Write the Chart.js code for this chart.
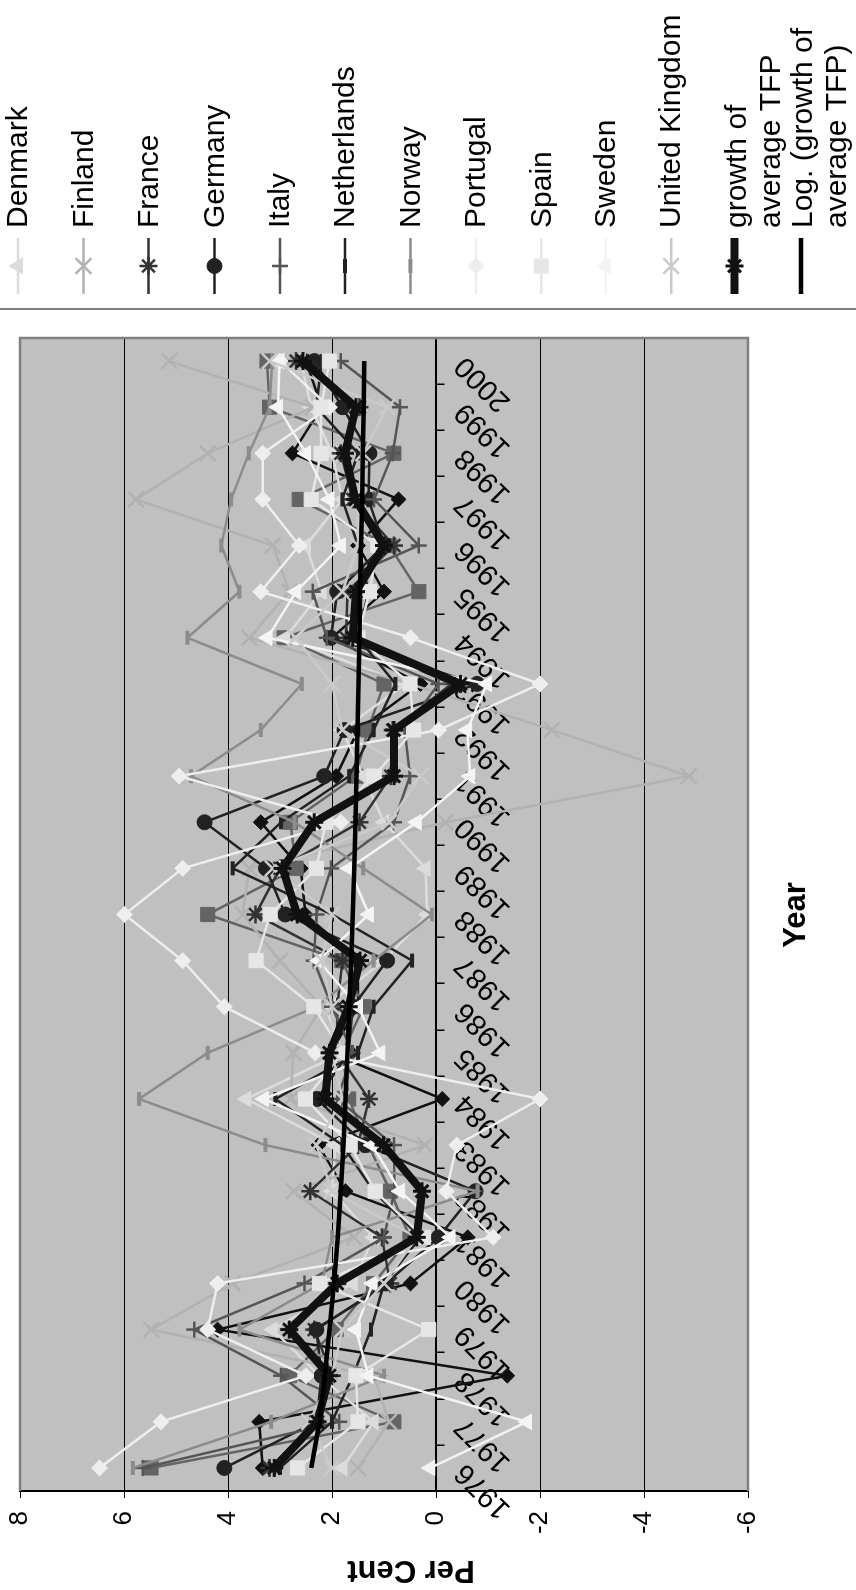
<!DOCTYPE html>
<html><head><meta charset="utf-8">
<script src="https://cdn.jsdelivr.net/npm/chart.js@4.4.1/dist/chart.umd.min.js"></script>
<style>
html,body{margin:0;padding:0;background:#fff;overflow:hidden;width:856px;height:1590px}
#wrap{position:absolute;left:0;top:1590px;width:1590px;height:856px;transform-origin:0 0;transform:rotate(-90deg)}
canvas{display:block}
</style></head><body>
<div id="wrap"><canvas id="c" width="1590" height="856"></canvas></div>
<script>
const years = ['1976','1977','1978','1979','1980','1981','1982','1983','1984','1985','1986','1987','1988','1989','1990','1991','1992','1993','1994','1995','1996','1997','1998','1999','2000'];
const valueTicks = [8,6,4,2,0,-2,-4,-6];

// two series whose legend entries are cut off in the picture
const series1 = [3.33,3.40,-1.37,4.20,0.49,-0.61,1.74,2.26,-0.12,2.03,1.50,1.50,2.51,2.60,3.37,1.92,1.50,0.30,2.00,1.00,1.50,0.72,2.76,2.20,2.50];
const series2 = [5.48,0.81,2.82,1.92,1.20,0.50,0.88,1.30,1.68,1.80,1.39,1.81,4.39,2.69,2.80,1.54,1.31,1.00,2.92,0.33,0.90,2.63,0.81,3.20,3.25];
const denmark = [1.80,1.20,2.24,3.14,1.60,1.20,2.00,1.94,3.65,1.80,2.13,1.00,0.17,0.20,1.00,1.40,1.80,0.59,2.90,2.20,2.50,1.80,2.00,2.40,2.60];
const finland = [1.50,0.90,1.20,5.48,3.91,1.58,2.74,0.21,2.80,2.74,2.20,3.00,3.72,3.59,-0.18,-4.86,-2.23,0.50,3.59,2.82,3.14,5.77,4.39,2.37,5.13];
const france = [3.20,2.31,2.00,2.34,0.88,1.04,2.42,1.50,1.29,1.90,1.90,1.80,3.47,3.00,1.47,0.87,0.83,-0.30,1.73,1.70,0.81,1.60,1.83,1.47,2.69];
const germany = [4.07,2.30,2.20,2.30,0.96,-0.05,-0.76,1.36,2.29,1.68,1.60,0.94,2.90,3.27,4.45,2.15,1.76,-0.79,2.02,1.90,1.00,1.30,1.28,1.80,2.34];
const italy = [5.64,1.86,2.98,4.65,2.53,1.00,0.80,0.81,1.90,1.60,2.00,2.35,2.30,2.02,0.81,0.50,0.60,-0.05,2.10,2.37,0.33,1.19,0.83,0.69,1.83];
const netherlands = [3.00,2.00,1.60,1.25,1.00,0.30,1.20,1.80,3.09,1.50,1.20,0.46,2.00,3.91,2.98,1.67,1.20,0.78,1.50,1.30,1.50,1.80,1.50,2.30,2.20];
const norway = [5.83,3.17,1.00,3.78,2.20,2.00,-0.80,3.28,5.71,4.39,2.30,1.20,0.08,1.40,2.72,4.71,3.37,2.58,4.78,3.78,4.13,3.94,3.60,3.20,3.15];
const portugal = [6.47,5.29,2.50,4.39,4.20,-1.10,-0.20,-0.40,-2.00,2.32,4.07,4.87,5.99,4.87,1.83,4.94,-0.05,-2.00,0.49,3.37,2.63,3.33,3.33,2.05,3.00];
const spain = [2.66,1.50,1.54,0.14,2.24,0.24,1.17,1.65,2.51,1.80,2.35,3.46,3.19,2.30,2.12,1.19,0.43,0.50,1.50,1.28,1.12,2.40,2.21,2.21,2.05];
const sweden = [0.11,-1.75,1.30,1.54,1.22,-0.28,0.69,1.23,3.31,1.07,1.50,2.26,1.29,1.67,0.37,-0.66,-0.60,-0.98,3.24,2.69,1.83,2.05,2.50,3.04,3.01];
const unitedKingdom = [2.00,2.44,2.00,1.80,1.00,0.37,2.00,2.30,1.80,2.00,2.00,2.20,2.00,3.14,0.90,0.30,1.80,2.00,2.70,1.80,1.50,1.50,1.40,0.94,3.20];
const avgGrowth = [3.11,2.28,2.05,2.82,1.90,0.37,0.27,1.01,2.13,2.05,1.68,1.46,2.67,2.95,2.34,0.81,0.81,-0.47,1.60,1.54,1.00,1.55,1.75,1.54,2.56];
const logTrend = [2.40,2.24,2.14,2.05,1.96,1.89,1.83,1.78,1.74,1.70,1.67,1.63,1.60,1.57,1.55,1.53,1.51,1.49,1.47,1.46,1.44,1.42,1.41,1.39,1.38];

const FONT = "'Liberation Sans', Arial, Helvetica, sans-serif";

const specs = [
  {label:'Series 1', data:series1, c:'#111111', ps:'rectRot', r:7.5, pw:1, lw:2.5, legend:false},
  {label:'Series 2', data:series2, c:'#646464', ps:'rect', r:10, pw:1, lw:2.5, legend:false},
  {label:'Denmark', data:denmark, c:'#dcdcdc', ps:'triangle', r:9, pw:1, lw:2.5},
  {label:'Finland', data:finland, c:'#b2b2b2', ps:'crossRot', r:11, pw:2.5, lw:2.5},
  {label:'France', data:france, c:'#333333', ps:'star', r:9, pw:2.5, lw:2.5},
  {label:'Germany', data:germany, c:'#222222', ps:'circle', r:7.5, pw:1, lw:2.5},
  {label:'Italy', data:italy, c:'#555555', ps:'cross', r:8, pw:2.5, lw:2.5},
  {label:'Netherlands', data:netherlands, c:'#222222', ps:'line', r:7, pw:4, lw:2.5},
  {label:'Norway', data:norway, c:'#8c8c8c', ps:'line', r:7, pw:4, lw:2.5},
  {label:'Portugal', data:portugal, c:'#eeeeee', ps:'rectRot', r:8, pw:1, lw:2.5},
  {label:'Spain', data:spain, c:'#e6e6e6', ps:'rect', r:10, pw:1, lw:2.5},
  {label:'Sweden', data:sweden, c:'#f4f4f4', ps:'triangle', r:9, pw:1, lw:2.5},
  {label:'United Kingdom', data:unitedKingdom, c:'#cacaca', ps:'crossRot', r:11, pw:2.5, lw:2.5},
  {label:'growth of average TFP', lines:['growth of','average TFP'], data:avgGrowth, c:'#111111', ps:'star', r:9, pw:3, lw:8},
  {label:'Log. (growth of average TFP)', lines:['Log. (growth of','average TFP)'], data:logTrend, c:'#000000', ps:false, r:0, pw:0, lw:4.5}
];

const datasets = specs.map((s,i)=>({
  label:s.label, data:s.data,
  borderColor:s.c, backgroundColor:s.c, borderWidth:s.lw,
  pointStyle:s.ps, pointRadius:s.r, pointHoverRadius:s.r,
  pointBackgroundColor:s.c, pointBorderColor:s.c, pointBorderWidth:s.pw,
  tension:0, fill:false, order:specs.length-i
}));

const legendY = [18,83.5,148.4,214.5,280,345,410.4,476,541.3,605.7,671.2,734.5,801];

const decor = {
  id:'decor',
  beforeDraw(chart){
    const {ctx, chartArea:a} = chart;
    ctx.save();
    ctx.fillStyle='#c0c0c0';
    ctx.fillRect(a.left,a.top,a.right-a.left,a.bottom-a.top);
    ctx.restore();
  },
  beforeDatasetsDraw(chart){
    const {ctx, chartArea:a} = chart;
    ctx.save();
    ctx.strokeStyle='#808080'; ctx.lineWidth=2.5;
    ctx.beginPath();
    ctx.moveTo(a.left,a.top); ctx.lineTo(a.right,a.top); ctx.lineTo(a.right,a.bottom); ctx.lineTo(a.left,a.bottom);
    ctx.stroke();
    ctx.restore();
  },
  afterDraw(chart){
    const {ctx} = chart;
    ctx.save();
    ctx.fillStyle='#000';
    ctx.font = "bold 31px " + FONT;
    ctx.textAlign='center'; ctx.textBaseline='middle';
    ctx.fillText('Year', 675, 796);
    ctx.save();
    ctx.translate(20, 411); ctx.rotate(-Math.PI/2);
    ctx.fillText('Per Cent', 0, 0);
    ctx.restore();
    ctx.strokeStyle='#808080'; ctx.lineWidth=2;
    ctx.beginPath(); ctx.moveTo(1281,0); ctx.lineTo(1281,856); ctx.stroke();
    const shown = specs.filter(s=>s.legend!==false);
    shown.forEach((s,i)=>{
      const y = legendY[i];
      ctx.strokeStyle=s.c; ctx.lineWidth=Math.min(s.lw,8);
      ctx.beginPath(); ctx.moveTo(1296,y); ctx.lineTo(1352,y); ctx.stroke();
      if(s.ps && Chart.helpers && Chart.helpers.drawPoint){
        ctx.fillStyle=s.c; ctx.strokeStyle=s.c; ctx.lineWidth=s.pw;
        Chart.helpers.drawPoint(ctx,{pointStyle:s.ps, radius:s.r, rotation:0, borderWidth:s.pw}, 1324, y);
      }
      ctx.fillStyle='#000'; ctx.font='30px '+FONT; ctx.textAlign='left'; ctx.textBaseline='middle';
      if(s.lines){
        ctx.fillText(s.lines[0],1362,y+3);
        ctx.fillText(s.lines[1],1362,y+37);
      } else {
        ctx.fillText(s.label,1362,y+1);
      }
    });
    ctx.restore();
  }
};

new Chart(document.getElementById('c'),{
  type:'line',
  data:{labels:years, datasets},
  plugins:[decor],
  options:{
    responsive:false, animation:false, devicePixelRatio:1,
    layout:{padding:{left:0,top:20,right:338,bottom:108}},
    plugins:{legend:{display:false}, tooltip:{enabled:false}},
    scales:{
      x:{type:'category', position:{y:0}, offset:true,
        afterFit(s){ s.paddingLeft=0; s.paddingRight=0; s.paddingTop=0; s.paddingBottom=0; },
        grid:{offset:true, drawOnChartArea:false, drawTicks:true, tickLength:8, color:'#000', lineWidth:1.5},
        border:{display:true, color:'#000', width:1.5},
        ticks:{autoSkip:false, minRotation:45, maxRotation:45, color:'#000', font:{family:FONT,size:29}, padding:4}},
      y:{min:-6, max:8,
        afterFit(s){ s.width=99; s.paddingTop=0; s.paddingBottom=0; },
        afterBuildTicks(s){ s.ticks = valueTicks.map(v=>({value:v})).sort((a,b)=>a.value-b.value); },
        ticks:{color:'#000', font:{family:FONT,size:26}, padding:13},
        grid:{color:'#000', lineWidth:1, tickLength:7, drawTicks:true, tickColor:'#000'},
        border:{display:true, color:'#000', width:2}}
    }
  }
});
</script>
</body></html>
